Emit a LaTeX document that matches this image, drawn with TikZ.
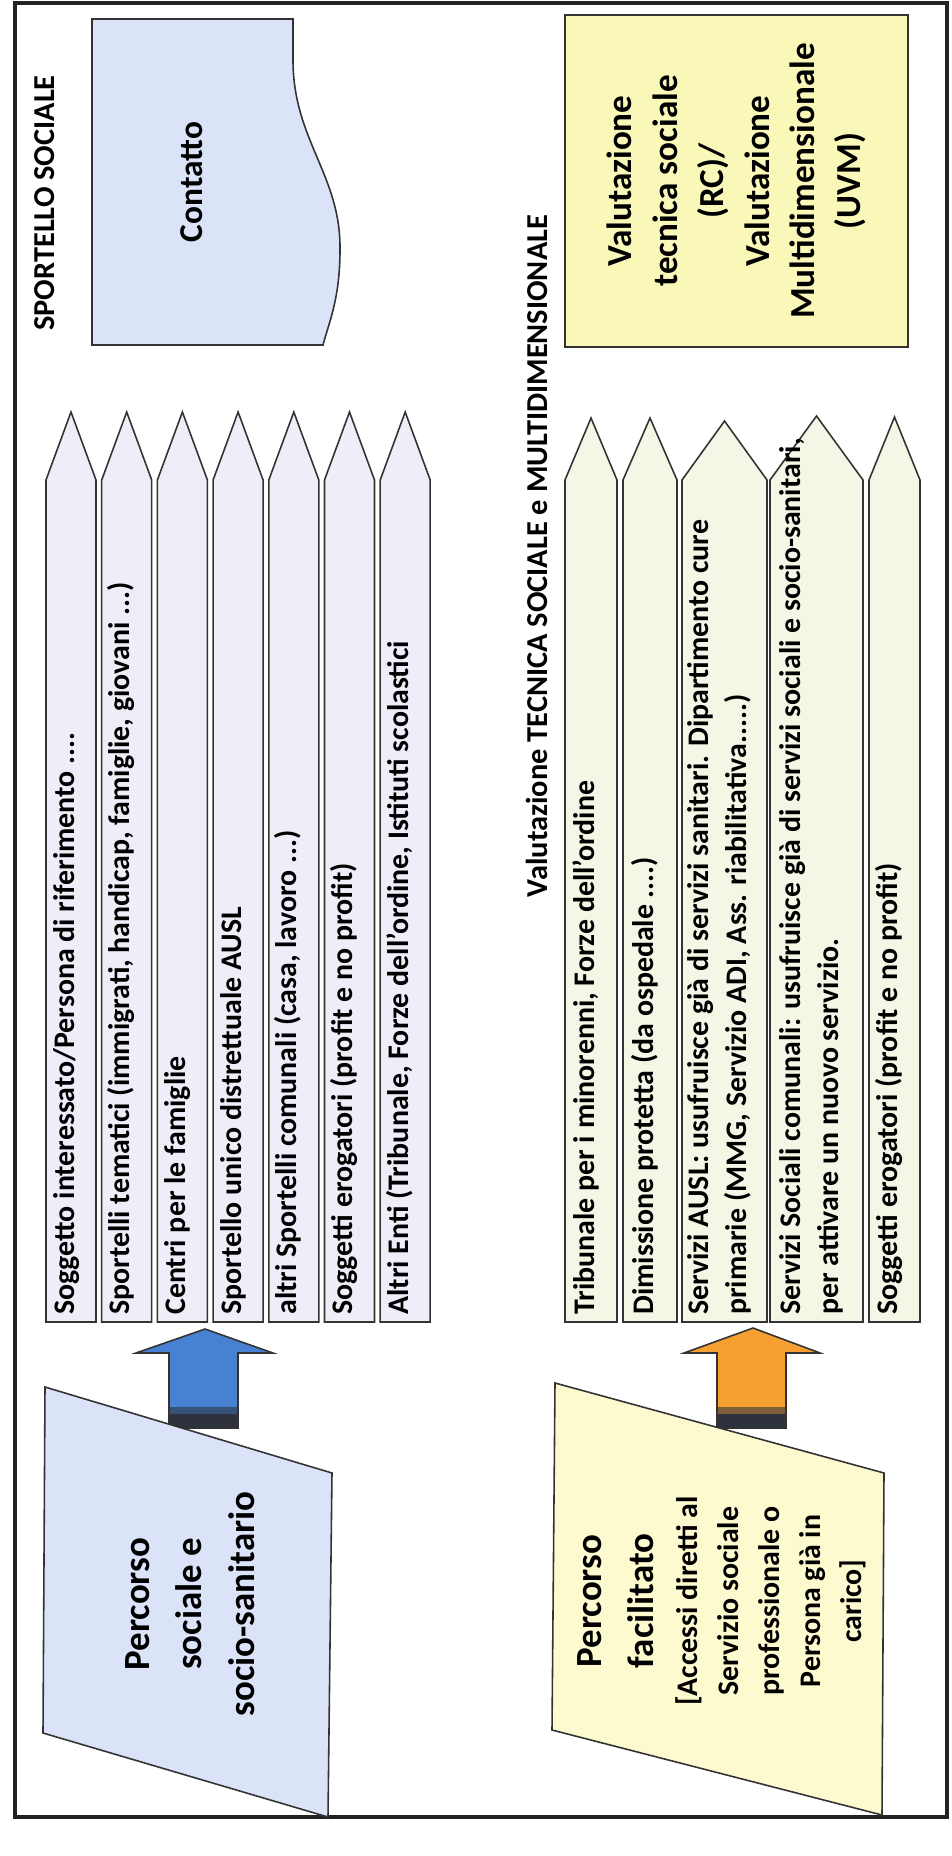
\documentclass[tikz,border=0pt]{standalone}
\usepackage{fontspec}
\setmainfont{Carlito}
\usetikzlibrary{positioning}
\definecolor{framegray}{HTML}{222222}
\definecolor{lavender}{RGB}{238,238,248}
\definecolor{cream}{RGB}{246,246,230}
\definecolor{paleblue}{RGB}{218,227,248}
\definecolor{paleyellow}{RGB}{250,248,185}
\definecolor{lightyellow}{RGB}{253,250,208}
\definecolor{arrowblue}{RGB}{72,128,210}
\definecolor{arroworange}{RGB}{247,160,50}
\definecolor{arrowshadow}{RGB}{45,50,60}
\tikzset{
	frame/.style={draw=framegray, line width=1.8pt},
	outline/.style={draw=black!80, line width=0.9pt},
	pencilL/.style={outline, fill=lavender},
	pencilY/.style={outline, fill=cream},
	srclabel/.style={rotate=90, anchor=base west, inner sep=0pt, font=\bfseries\fontsize{17}{21.5}\selectfont},
	srclabeltwo/.style={rotate=90, anchor=west, inner sep=0pt, align=left, font=\bfseries\fontsize{17}{21.5}\selectfont},
	heading/.style={rotate=90, inner sep=0pt, font=\bfseries\fontsize{17.3}{21}\selectfont},
	boxtext/.style={rotate=90, inner sep=0pt, align=center, font=\bfseries\fontsize{20}{26}\selectfont}
}
% pencil shaped source: left x, width, tip y, style
\newcommand{\pencil}[4]{%
	\draw[#4] (#1,1322) -- (#1,480) -- ({#1+#2/2},#3) -- ({#1+#2},480) -- ({#1+#2},1322) -- cycle;}

\begin{document}
\begin{tikzpicture}[x=0.02cm, y=-0.02cm]
	\useasboundingbox[fill=white] (0,0) rectangle (952,1856);
	\draw[frame] (15,3) rectangle (947,1817);
	
	% sportello sociale
	\node[heading] (sporttitle) at (45,203) {SPORTELLO SOCIALE};
	\draw[outline, fill=paleblue] (92,19) -- (293,19) -- (293,60) .. controls (293,140) and (341,175) .. (340,250) .. controls (340,300) and (328,325) .. (323,345) -- (92,345) -- cycle;
	\node[boxtext, font=\bfseries\fontsize{19}{23}\selectfont] (contatto) at (192,182) {Contatto};
	
	\foreach \i in {0,...,6} {
		\pencil{46+\i*55.7}{50}{412}{pencilL}
	}
	\node[srclabel] (sogg) at (74,1315) {Soggetto interessato/Persona di riferimento ....};
	\node[srclabel] (temat) at (129.7,1315) {Sportelli tematici (immigrati, handicap, famiglie, giovani ...)};
	\node[srclabel] (centri) at (185.4,1315) {Centri per le famiglie};
	\node[srclabel] (unico) at (241.1,1315) {Sportello unico distrettuale AUSL};
	\node[srclabel] (altri) at (296.8,1315) {altri Sportelli comunali (casa, lavoro ...)};
	\node[srclabel] (sogerog) at (352.5,1315) {Soggetti erogatori (profit e no profit)};
	\node[srclabel] (enti) at (408.2,1315) {Altri Enti (Tribunale, Forze dell'ordine, Istituti scolastici};
	
	\draw[outline, fill=arrowblue] (169,1428) -- (169,1353) -- (136,1353) -- (205,1329) -- (273,1353) -- (238,1353) -- (238,1428) -- cycle;
	\fill[arrowshadow!60!arrowblue] (170,1407) rectangle (237,1414);
	\fill[arrowshadow] (170,1414) rectangle (237,1427);
	
	\draw[outline, fill=paleblue] (45,1387) -- (332,1473) -- (328,1817) -- (43,1733) -- cycle;
	\node[boxtext, font=\bfseries\fontsize{21}{29.8}\selectfont] (percsoc) at (190,1604) {Percorso\\sociale e\\socio-sanitario};
	
	% valutazione tecnica
	\node[heading] (valtitle) at (537,556) {Valutazione TECNICA SOCIALE e MULTIDIMENSIONALE};
	\node[boxtext, outline, fill=paleyellow, minimum width=6.64cm, minimum height=6.86cm] (valut) at (736.5,181) {Valutazione\\tecnica sociale\\(RC)/\\Valutazione\\Multidimensionale\\(UVM)};
	
	\pencil{565}{52}{418}{pencilY}
	\pencil{623}{54}{418}{pencilY}
	\pencil{682}{85}{421}{pencilY}
	\pencil{770}{93}{416}{pencilY}
	\pencil{869}{51}{417}{pencilY}
	\node[srclabel] (trib) at (594,1315) {Tribunale per i minorenni, Forze dell'ordine};
	\node[srclabel] (dimis) at (653,1315) {Dimissione protetta (da ospedale ....)};
	\node[srclabeltwo] (ausl) at (719,1315) {Servizi AUSL: usufruisce già di servizi sanitari. Dipartimento cure\\primarie (MMG, Servizio ADI, Ass. riabilitativa.....)};
	\node[srclabeltwo] (comun) at (811,1315) {Servizi Sociali comunali: usufruisce già di servizi sociali e socio-sanitari,\\per attivare un nuovo servizio.};
	\node[srclabel] (erog) at (897,1315) {Soggetti erogatori (profit e no profit)};
	
	\draw[outline, fill=arroworange] (717,1428) -- (717,1353) -- (684,1353) -- (753,1328) -- (820,1353) -- (786,1353) -- (786,1428) -- cycle;
	\fill[arrowshadow!60!arroworange] (718,1407) rectangle (785,1414);
	\fill[arrowshadow] (718,1414) rectangle (785,1427);
	
	\draw[outline, fill=lightyellow] (555,1383) -- (884,1473) -- (882,1815) -- (552,1730) -- cycle;
	\node[boxtext, font=\bfseries\fontsize{21}{29.5}\selectfont] (percfac) at (616,1601) {Percorso\\facilitato};
	\node[boxtext, font=\bfseries\fontsize{17}{23.3}\selectfont] (accessi) at (771,1601) {[Accessi diretti al\\Servizio sociale\\professionale o\\Persona già in\\carico]};
\end{tikzpicture}
\end{document}
